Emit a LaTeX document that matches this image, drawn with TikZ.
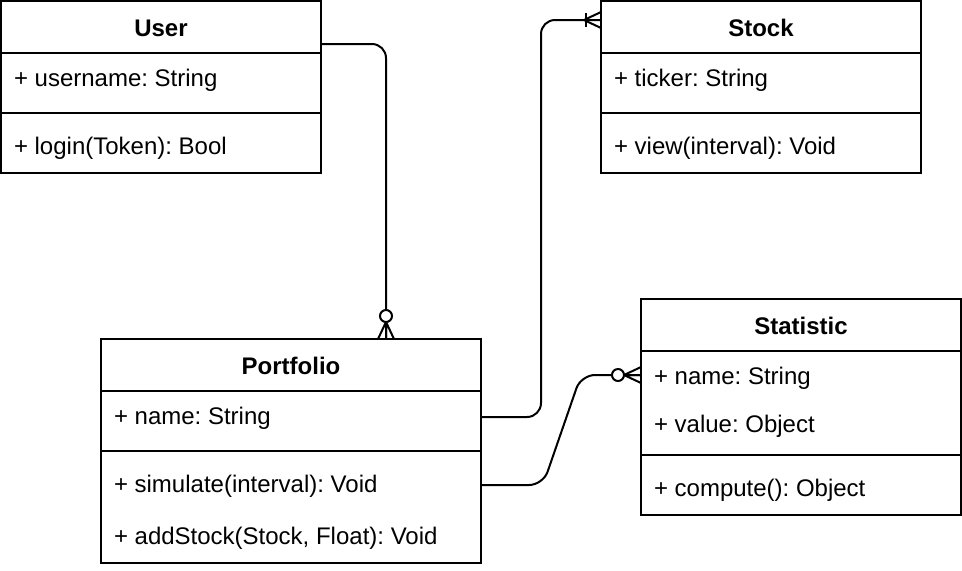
\documentclass[tikz,border=0pt]{standalone}
\usepackage{fontspec}
\setmainfont{Liberation Sans}
\usetikzlibrary{positioning,calc}
\frenchspacing

% Crow's foot ends, drawn with the entity at the origin and the line coming from the left.
\tikzset{
  zeromany/.pic={
    \draw (-17,0) -- (0,-8) (-17,0) -- (0,0) (-17,0) -- (0,8);
    \draw[fill=white] (-23,0) circle[radius=3pt];
  },
  onemany/.pic={
    \draw (-17,0) -- (0,-8) (-17,0) -- (0,8);
    \draw (-15,-7) -- (-15,7);
  }
}

\begin{document}
\begin{tikzpicture}[
    x=0.5pt, y=-0.5pt,
    line width=1pt,
    font=\fontsize{12}{14}\selectfont,
    classbox/.style={draw, anchor=north west, outer sep=0pt, inner sep=0pt},
    title/.style={font=\fontsize{12}{14}\selectfont\bfseries},
    member/.style={anchor=west, inner sep=0pt},
    link/.style={rounded corners=7pt}
]
\useasboundingbox (0,0) rectangle (962,570);

% User class
\node[classbox, minimum width=160pt, minimum height=86pt] (user) at (1,1) {};
\node[title] (user-title) at (161,28) {User};
\node[member] (user-name) at (13,80) {+ username: String};
\node[member] (user-login) at (13,148) {+ login(Token): Bool};
\draw ([yshift=-26pt]user.north west) -- ([yshift=-26pt]user.north east);
\draw ([yshift=-56pt]user.north west) -- ([yshift=-56pt]user.north east);

% Stock class
\node[classbox, minimum width=160pt, minimum height=86pt] (stock) at (601,1) {};
\node[title] (stock-title) at (761,28) {Stock};
\node[member] (stock-ticker) at (613,80) {+ ticker: String};
\node[member] (stock-view) at (613,148) {+ view(interval): Void};
\draw ([yshift=-26pt]stock.north west) -- ([yshift=-26pt]stock.north east);
\draw ([yshift=-56pt]stock.north west) -- ([yshift=-56pt]stock.north east);

% Portfolio class
\node[classbox, minimum width=190pt, minimum height=112pt] (pf) at (101,339) {};
\node[title] (pf-title) at (291,366) {Portfolio};
\node[member] (pf-name) at (113,418) {+ name: String};
\node[member] (pf-sim) at (113,486) {+ simulate(interval): Void};
\node[member] (pf-add) at (113,538) {+ addStock(Stock, Float): Void};
\draw ([yshift=-26pt]pf.north west) -- ([yshift=-26pt]pf.north east);
\draw ([yshift=-56pt]pf.north west) -- ([yshift=-56pt]pf.north east);

% Statistic class
\node[classbox, minimum width=160pt, minimum height=108pt] (stat) at (641,299) {};
\node[title] (stat-title) at (801,326) {Statistic};
\node[member] (stat-name) at (653,378) {+ name: String};
\node[member] (stat-value) at (653,426) {+ value: Object};
\node[member] (stat-compute) at (653,490) {+ compute(): Object};
\draw ([yshift=-26pt]stat.north west) -- ([yshift=-26pt]stat.north east);
\draw ([yshift=-78pt]stat.north west) -- ([yshift=-78pt]stat.north east);

% Relations
\coordinate (pf-top) at ($(pf.north west)!0.75!(pf.north east)$);
\coordinate (pf-out) at ([yshift=-39pt]pf.north east);
\coordinate (pf-out2) at ([yshift=-73pt]pf.north east);
\coordinate (stock-in) at ([yshift=-9.5pt]stock.north west);
\coordinate (stat-in) at ([yshift=-38pt]stat.north west);

\draw[link] ([yshift=-21.5pt]user.north east) -| (pf-top);
\path (pf-top) pic[rotate=-90] {zeromany};

\draw[link] (pf-out) -- ++(60,0) |- (stock-in);
\path (stock-in) pic {onemany};

\draw[link] (pf-out2) -- ++(62,0) -- ($(stat-in)+(-60,0)$) -- (stat-in);
\path (stat-in) pic {zeromany};

\end{tikzpicture}
\end{document}
